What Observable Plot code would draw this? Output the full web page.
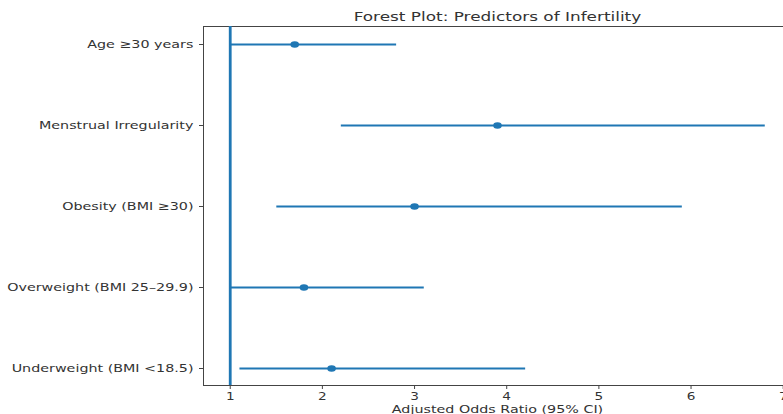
<!DOCTYPE html>
<html><head><meta charset="utf-8">
<script src="https://cdn.jsdelivr.net/npm/d3@7"></script>
<script src="https://cdn.jsdelivr.net/npm/@observablehq/plot@0.6"></script>
<style>
html,body{margin:0;padding:0;background:#fff;overflow:hidden;width:783px;height:414px;}
#chart{width:783px;height:414px;overflow:hidden;}
#chart svg{font-family:"DejaVu Sans",sans-serif;max-width:none;}
</style></head>
<body><div id="chart"></div>
<script>
const title = "Forest Plot: Predictors of Infertility";
const xLabel = "Adjusted Odds Ratio (95% CI)";
const predictors = ["Age ≥30 years","Menstrual Irregularity","Obesity (BMI ≥30)","Overweight (BMI 25–29.9)","Underweight (BMI <18.5)"];
const oddsRatio = [1.7, 3.9, 3.0, 1.8, 2.1];
const ciLow = [1.0, 2.2, 1.5, 1.0, 1.1];
const ciHigh = [2.8, 6.8, 5.9, 3.1, 4.2];
const xTicks = [1,2,3,4,5,6,7];
const refLine = [1];

const rows = predictors.map((p,i)=>({p, or:oddsRatio[i], lo:ciLow[i], hi:ciHigh[i]}));
const blue = "#1f77b4";

const chart = Plot.plot({
  width: 795, height: 414,
  marginLeft: 203, marginRight: 4, marginTop: 26, marginBottom: 29,
  style: {fontFamily: "DejaVu Sans, sans-serif", fontSize: "11px", color: "#333", background: "#fff", maxWidth: "none"},
  x: {domain: [0.71, 7.09]},
  y: {type: "point", domain: predictors, padding: 0.2},
  marks: [
    Plot.frame({stroke: "#444", strokeWidth: 1}),
    Plot.ruleX(refLine, {x: d=>d, stroke: blue, strokeWidth: 2.8}),
    Plot.link(rows, {x1: "lo", x2: "hi", y1: "p", y2: "p", stroke: blue, strokeWidth: 1.8}),
    Plot.dot(rows, {x: "or", y: "p", r: 3.3, fill: blue, stroke: null}),
    Plot.axisX({ticks: xTicks, tickFormat: "d", tickSize: 4, tickPadding: 3, label: null, stroke: "#444", fill: "#333", fontSize: 10.5}),
    Plot.axisY({tickSize: 4, tickPadding: 6, label: null, stroke: "#444", fill: "#333", fontSize: 11}),
    Plot.text([xLabel], {text: d=>d, frameAnchor: "bottom", lineAnchor: "middle", dy: 24, fontSize: 11, fill: "#333"}),
    Plot.text([title], {text: d=>d, frameAnchor: "top", lineAnchor: "middle", dy: -10, fontSize: 13, fill: "#333"})
  ]
});
chart.style.maxWidth = "none";
document.getElementById("chart").appendChild(chart);
// the reference picture is stretched horizontally by about 1.3
const SX = 1.3;
chart.querySelectorAll("text").forEach(t => {
  const b = t.getBBox();
  const a = getComputedStyle(t).textAnchor;
  const ax = a === "end" ? b.x + b.width : a === "start" ? b.x : b.x + b.width / 2;
  const prev = t.getAttribute("transform") || "";
  t.setAttribute("transform", `${prev} translate(${ax},0) scale(${SX},1) translate(${-ax},0)`.trim());
});
chart.querySelectorAll("circle").forEach(c => {
  const cx = +c.getAttribute("cx") || 0;
  const prev = c.getAttribute("transform") || "";
  c.setAttribute("transform", `${prev} translate(${cx},0) scale(${SX},1) translate(${-cx},0)`.trim());
});
</script></body></html>
